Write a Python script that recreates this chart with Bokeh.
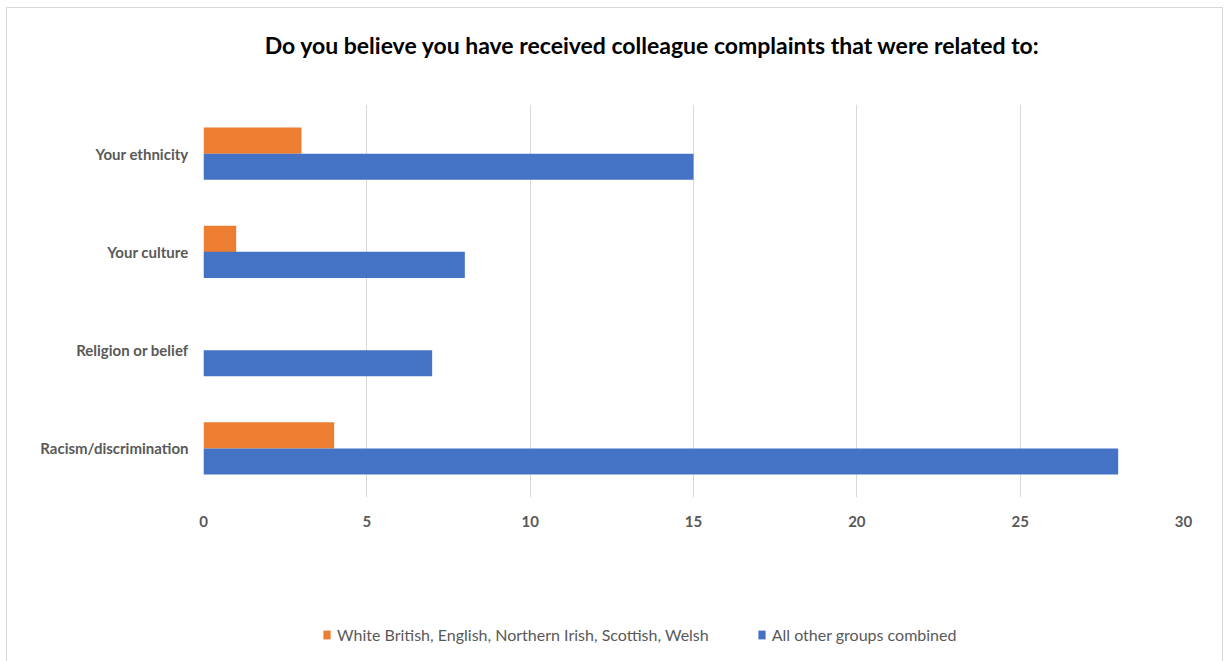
from bokeh.plotting import figure
from bokeh.layouts import column
from bokeh.models import (ColumnDataSource, FactorRange, Range1d, FixedTicker, Legend,
                          LegendItem, Label)
from bokeh.transform import dodge
from bokeh.embed import file_html
from bokeh.resources import INLINE

categories = ["Your ethnicity", "Your culture", "Religion or belief", "Racism/discrimination"]
white_british = [3, 1, 0, 4]
other_groups = [15, 8, 7, 28]
x_ticks = [0, 5, 10, 15, 20, 25, 30]
series_names = ["White British, English, Northern Irish, Scottish, Welsh", "All other groups combined"]
series_colors = ["#ED7D31", "#4472C4"]
title_text = "Do you believe you have received colleague complaints that were related to:"

source = ColumnDataSource(dict(cat=categories, white=white_british, other=other_groups))

W = 1229
H_TITLE = 80
H_MAIN = 460
H_LEG = 121


def bare_figure(height):
    f = figure(width=W, height=height, output_backend="svg", toolbar_location=None,
               x_range=Range1d(0, 1), y_range=Range1d(0, 1),
               x_axis_location=None, y_axis_location=None,
               min_border_left=0, min_border_right=0, min_border_top=0, min_border_bottom=0)
    f.outline_line_color = None
    f.border_fill_color = None
    f.background_fill_color = None
    f.grid.visible = False
    return f


# ---- title figure (its frame is aligned with the main frame by the column layout)
pt = bare_figure(H_TITLE)
pt.add_layout(Label(x=449, y=H_TITLE - 48 + 4, x_units="screen", y_units="screen",
                    text=title_text, text_align="center", text_baseline="middle",
                    text_font="Lato", text_font_style="bold", text_font_size="23px",
                    text_color="#000000"))

# ---- main chart
p = figure(width=W, height=H_MAIN, output_backend="svg", toolbar_location=None,
           y_range=FactorRange(factors=list(reversed(categories))),
           x_range=Range1d(0, 30),
           min_border_left=203, min_border_right=46, min_border_top=104 - H_TITLE,
           min_border_bottom=43)
p.outline_line_color = None
p.border_fill_color = None

bar_h = 0.265
p.hbar(y=dodge("cat", bar_h / 2, range=p.y_range), right="white", left=0, height=bar_h,
       source=source, fill_color=series_colors[0], line_color=None)
p.hbar(y=dodge("cat", -bar_h / 2, range=p.y_range), right="other", left=0, height=bar_h,
       source=source, fill_color=series_colors[1], line_color=None)

p.xaxis.ticker = FixedTicker(ticks=x_ticks)
for ax in (p.xaxis[0], p.yaxis[0]):
    ax.axis_line_color = None
    ax.major_tick_line_color = None
    ax.minor_tick_line_color = None
    ax.major_tick_out = 0
    ax.major_tick_in = 0
    ax.major_label_text_font = "Lato"
    ax.major_label_text_font_style = "bold"
    ax.major_label_text_font_size = "15px"
    ax.major_label_text_color = "#595959"
p.xaxis.major_label_standoff = 18
p.yaxis.major_label_standoff = 15

p.xgrid.grid_line_color = "#d9d9d9"
p.xgrid.grid_line_width = 1
p.ygrid.grid_line_color = None

# ---- legend figure (legend proxies lie outside its visible ranges)
pl = bare_figure(H_LEG)
proxy = ColumnDataSource(dict(x=[-5], top=[-5]))
lr1 = pl.vbar(x="x", top="top", width=0.1, source=proxy,
              fill_color=series_colors[0], line_color=None)
lr2 = pl.vbar(x="x", top="top", width=0.1, source=proxy,
              fill_color=series_colors[1], line_color=None)
legend = Legend(items=[LegendItem(label=series_names[0], renderers=[lr1]),
                       LegendItem(label=series_names[1], renderers=[lr2])],
                orientation="horizontal", location=(119, 17),
                glyph_width=9, glyph_height=11, label_standoff=6, spacing=48,
                padding=0, margin=0, border_line_color=None, background_fill_alpha=0,
                label_text_font="Lato", label_text_font_size="16px",
                label_text_color="#595959", label_height=20)
pl.add_layout(legend, "center")

g = "linear-gradient(#d9d9d9, #d9d9d9)"
layout = column(pt, p, pl, spacing=0)
layout.styles = {
    "background-color": "white",
    "background-image": f"{g}, {g}, {g}",
    "background-size": "1px 100%, 1px 100%, 1217px 1px",
    "background-position": "6px 7px, 1222px 7px, 6px 7px",
    "background-repeat": "no-repeat",
}

open("out.html", "w").write(file_html(layout, INLINE))
